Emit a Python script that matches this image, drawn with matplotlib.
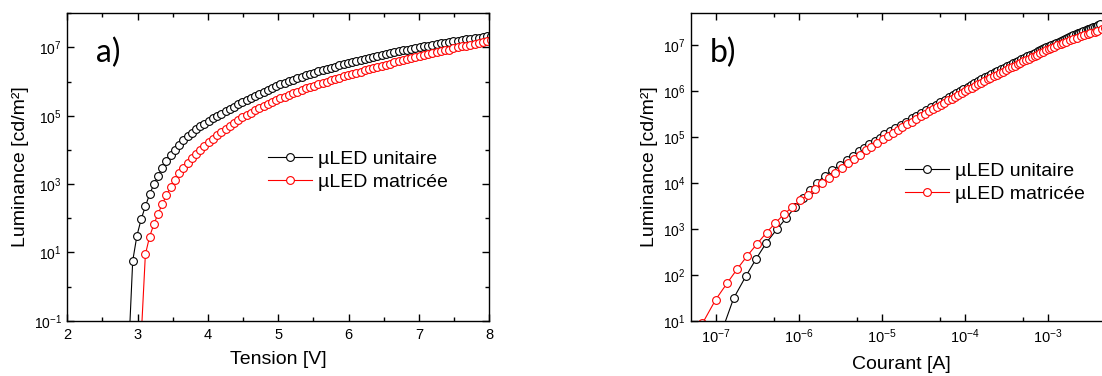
import numpy as np
import matplotlib
matplotlib.use("Agg")
import matplotlib.pyplot as plt
from matplotlib.ticker import FixedLocator, FuncFormatter, NullFormatter

plt.rcParams["font.family"] = ["Liberation Sans", "DejaVu Sans"]
plt.rcParams["mathtext.default"] = "regular"

# Tension [V] (shared grid, black starts at index 0, red at index 3)
tension = [
    2.87, 2.93, 2.99, 3.05, 3.11, 3.17, 3.23, 3.29, 3.35, 3.41,
    3.47, 3.53, 3.59, 3.65, 3.71, 3.77, 3.83, 3.89, 3.95, 4.01,
    4.07, 4.13, 4.19, 4.25, 4.31, 4.37, 4.43, 4.49, 4.55, 4.61,
    4.67, 4.73, 4.79, 4.85, 4.91, 4.97, 5.03, 5.09, 5.15, 5.21,
    5.27, 5.33, 5.39, 5.45, 5.51, 5.57, 5.63, 5.69, 5.75, 5.81,
    5.87, 5.93, 5.99, 6.05, 6.11, 6.17, 6.23, 6.29, 6.35, 6.41,
    6.47, 6.53, 6.59, 6.65, 6.71, 6.77, 6.83, 6.89, 6.95, 7.01,
    7.07, 7.13, 7.19, 7.25, 7.31, 7.37, 7.43, 7.49, 7.55, 7.61,
    7.67, 7.73, 7.79, 7.85, 7.91, 7.97, 8.03, 8.09, 8.15, 8.21,
    8.27, 8.33, 8.39, 8.45,
]

# log10 luminance [cd/m²] - µLED unitaire
log_lum_unit = [
    -2.0, 0.75, 1.49, 1.97, 2.35, 2.70, 2.99, 3.24, 3.47, 3.67,
    3.85, 4.01, 4.15, 4.28, 4.40, 4.51, 4.60, 4.69, 4.77, 4.84,
    4.92, 4.99, 5.06, 5.13, 5.20, 5.27, 5.34, 5.41, 5.47, 5.53,
    5.59, 5.65, 5.71, 5.76, 5.82, 5.87, 5.92, 5.96, 6.01, 6.05,
    6.10, 6.14, 6.18, 6.22, 6.26, 6.30, 6.34, 6.37, 6.41, 6.44,
    6.48, 6.51, 6.55, 6.58, 6.61, 6.64, 6.67, 6.70, 6.73, 6.76,
    6.79, 6.82, 6.84, 6.87, 6.89, 6.92, 6.94, 6.96, 6.99, 7.01,
    7.03, 7.05, 7.08, 7.10, 7.12, 7.14, 7.16, 7.18, 7.20, 7.22,
    7.24, 7.26, 7.27, 7.29, 7.31, 7.33, 7.35, 7.36, 7.38, 7.40,
    7.41, 7.43, 7.44, 7.46,
]

# log10 courant [A] - µLED unitaire
log_cur_unit = [
    -7.30, -6.93, -6.784, -6.637, -6.513, -6.39, -6.265, -6.15, -6.045, -5.955,
    -5.865, -5.78, -5.69, -5.60, -5.501, -5.420, -5.351, -5.279, -5.212, -5.153,
    -5.083, -5.019, -4.970, -4.905, -4.840, -4.774, -4.708, -4.642, -4.585, -4.527,
    -4.469, -4.411, -4.353, -4.304, -4.246, -4.196, -4.147, -4.107, -4.058, -4.018,
    -3.968, -3.927, -3.886, -3.845, -3.803, -3.761, -3.719, -3.687, -3.644, -3.612,
    -3.568, -3.535, -3.491, -3.458, -3.424, -3.391, -3.357, -3.323, -3.288, -3.254,
    -3.219, -3.184, -3.161, -3.126, -3.102, -3.067, -3.043, -3.019, -2.983, -2.959,
    -2.934, -2.910, -2.873, -2.848, -2.823, -2.797, -2.772, -2.746, -2.721, -2.695,
    -2.668, -2.642, -2.629, -2.602, -2.576, -2.549, -2.522, -2.508, -2.481, -2.453,
    -2.439, -2.411, -2.397, -2.369,
]

# log10 luminance [cd/m²] - µLED matricée (from tension[3])
log_lum_mat = [
    -1.5, 0.94, 1.46, 1.82, 2.13, 2.41, 2.68, 2.92,
    3.13, 3.32, 3.48, 3.62, 3.75, 3.88, 4.00, 4.11, 4.22, 4.33,
    4.43, 4.53, 4.62, 4.71, 4.79, 4.87, 4.95, 5.02, 5.09, 5.16,
    5.22, 5.28, 5.34, 5.40, 5.46, 5.51, 5.56, 5.61, 5.66, 5.71,
    5.75, 5.80, 5.84, 5.88, 5.92, 5.96, 6.00, 6.04, 6.08, 6.12,
    6.15, 6.19, 6.22, 6.26, 6.29, 6.33, 6.36, 6.40, 6.43, 6.46,
    6.50, 6.53, 6.56, 6.59, 6.62, 6.65, 6.68, 6.71, 6.74, 6.77,
    6.80, 6.83, 6.86, 6.89, 6.92, 6.94, 6.97, 7.00, 7.03, 7.05,
    7.08, 7.11, 7.14, 7.17, 7.20, 7.22, 7.25, 7.27, 7.30, 7.32,
    7.35, 7.37, 7.40,
]

# log10 courant [A] - µLED matricée
log_cur_mat = [
    -7.60, -7.16, -7.00, -6.862, -6.740, -6.622, -6.500, -6.388,
    -6.282, -6.178, -6.076, -5.980, -5.890, -5.803, -5.720, -5.640, -5.560, -5.482,
    -5.408, -5.332, -5.262, -5.190, -5.125, -5.058, -4.991, -4.931, -4.869, -4.807,
    -4.753, -4.698, -4.643, -4.587, -4.531, -4.484, -4.436, -4.388, -4.339, -4.290,
    -4.251, -4.201, -4.161, -4.121, -4.080, -4.040, -4.000, -3.959, -3.917, -3.875,
    -3.844, -3.801, -3.770, -3.727, -3.695, -3.652, -3.619, -3.576, -3.543, -3.510,
    -3.466, -3.432, -3.399, -3.365, -3.332, -3.298, -3.264, -3.230, -3.196, -3.161,
    -3.127, -3.092, -3.057, -3.022, -2.988, -2.964, -2.927, -2.889, -2.850, -2.823,
    -2.781, -2.739, -2.695, -2.649, -2.603, -2.571, -2.523, -2.490, -2.439, -2.405,
    -2.352, -2.317, -2.262,
]

labels = ["µLED unitaire", "µLED matricée"]
colors = ["black", "red"]

a_yticks = [-1, 1, 3, 5, 7]
a_yminor = [0, 2, 4, 6, 8]
b_yticks = [1, 2, 3, 4, 5, 6, 7]
b_xticks = [-7, -6, -5, -4, -3, -2]
b_xminor = [-7.30103, -6.30103, -5.30103, -4.30103, -3.30103, -2.30103]

V = np.array(tension)
lum_u = 10.0 ** np.array(log_lum_unit)
lum_m = 10.0 ** np.array(log_lum_mat)
cur_u = 10.0 ** np.array(log_cur_unit)
cur_m = 10.0 ** np.array(log_cur_mat)

W, H = 1102, 376
fig = plt.figure(figsize=(W / 100, H / 100), dpi=100)
fig.patch.set_facecolor("white")

ax1 = fig.add_axes([67.3 / W, 55.3 / H, 422 / W, 307.4 / H])
ax2 = fig.add_axes([690.7 / W, 55.3 / H, 422 / W, 307.4 / H])

style = dict(marker="o", markersize=5.6, markerfacecolor="white",
             markeredgewidth=0.8, linewidth=0.8)

ax1.plot(V, lum_u, color=colors[0], label=labels[0], **style)
ax1.plot(V[3:], lum_m, color=colors[1], label=labels[1], **style)

ax2.plot(cur_u, lum_u, color=colors[0], label=labels[0], **style)
ax2.plot(cur_m, lum_m, color=colors[1], label=labels[1], **style)

sci = FuncFormatter(lambda v, p: r"$\mathdefault{10^{%d}}$" % round(np.log10(v)))

ax1.set_yscale("log")
ax1.set_xlim(2, 8)
ax1.set_ylim(1e-1, 1e8)
ax1.xaxis.set_major_locator(FixedLocator([2, 3, 4, 5, 6, 7, 8]))
ax1.xaxis.set_minor_locator(FixedLocator([2.5, 3.5, 4.5, 5.5, 6.5, 7.5]))
ax1.yaxis.set_major_locator(FixedLocator([10.0 ** e for e in a_yticks]))
ax1.yaxis.set_minor_locator(FixedLocator([10.0 ** e for e in a_yminor]))
ax1.yaxis.set_major_formatter(sci)
ax1.yaxis.set_minor_formatter(NullFormatter())
ax1.set_xlabel("Tension [V]", fontsize=14, labelpad=7)
ax1.set_ylabel("Luminance [cd/m²]", fontsize=14, labelpad=3)

ax2.set_xscale("log")
ax2.set_yscale("log")
ax2.set_xlim(5e-8, 6e-3)
ax2.set_ylim(1e1, 5e7)
ax2.xaxis.set_major_locator(FixedLocator([10.0 ** e for e in b_xticks]))
ax2.xaxis.set_minor_locator(FixedLocator([10.0 ** e for e in b_xminor]))
ax2.xaxis.set_major_formatter(sci)
ax2.xaxis.set_minor_formatter(NullFormatter())
ax2.yaxis.set_major_locator(FixedLocator([10.0 ** e for e in b_yticks]))
ax2.yaxis.set_minor_locator(FixedLocator([]))
ax2.yaxis.set_major_formatter(sci)
ax2.set_xlabel("Courant [A]", fontsize=14, labelpad=7)
ax2.set_ylabel("Luminance [cd/m²]", fontsize=14, labelpad=3)

for ax in (ax1, ax2):
    ax.tick_params(which="both", direction="in", top=True, right=True,
                   labelsize=10.5, width=1)
    ax.tick_params(which="major", length=5, pad=5)
    ax.tick_params(which="minor", length=3)
    ax.tick_params(axis="y", which="major", labelsize=10, pad=4)
    for spine in ax.spines.values():
        spine.set_linewidth(1)

leg_style = dict(loc="upper left", bbox_transform=fig.transFigure,
                 frameon=False, fontsize=14, numpoints=1, handlelength=2.25,
                 handletextpad=0.3, labelspacing=0.3, borderpad=0,
                 borderaxespad=0)
ax1.legend(bbox_to_anchor=(268 / W, 1 - 150 / H), **leg_style)
ax2.legend(bbox_to_anchor=(905 / W, 1 - 162 / H), **leg_style)

fig.text(96 / W, 1 - 62 / H, "a)", fontsize=23, family=["Lato", "DejaVu Sans"])
fig.text(710 / W, 1 - 62 / H, "b)", fontsize=23, family=["Lato", "DejaVu Sans"])

fig.savefig("out.png", dpi=100, facecolor="white")
